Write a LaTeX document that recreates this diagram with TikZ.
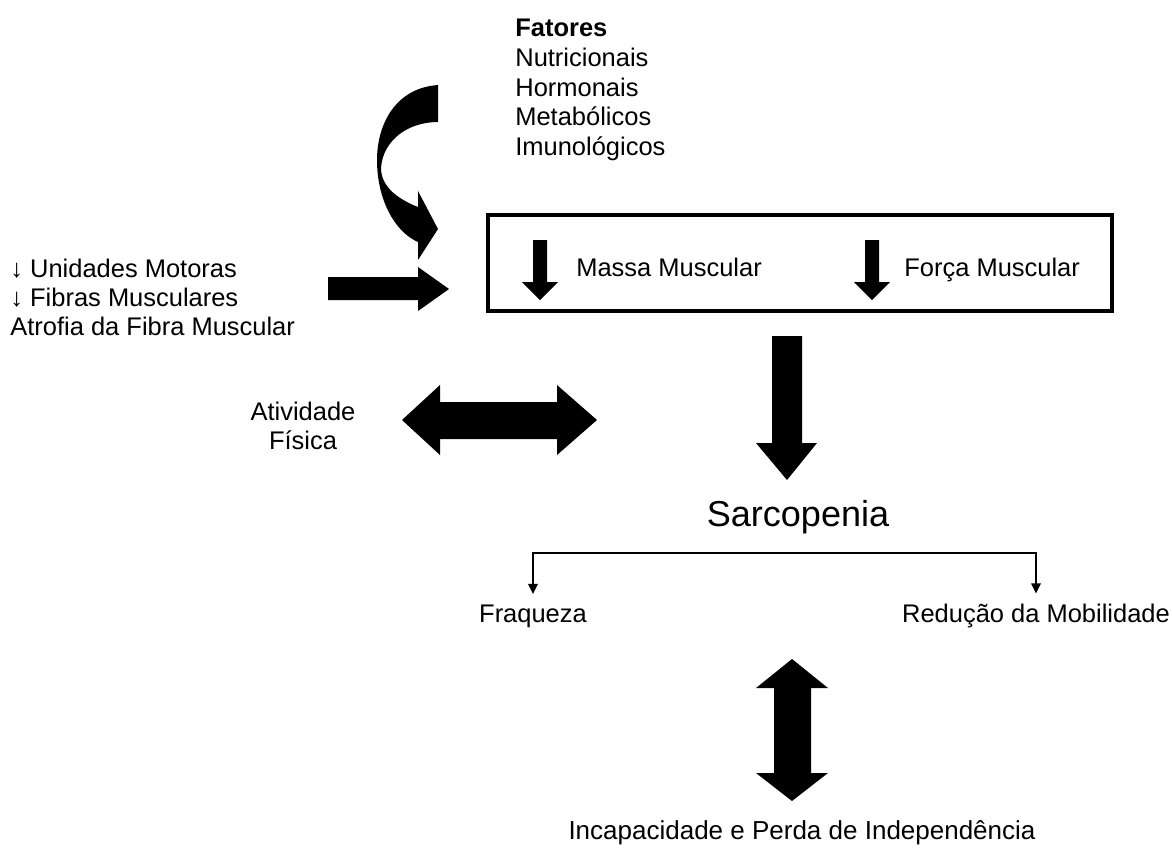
\documentclass[tikz,border=0pt]{standalone}
\usepackage{fontspec}
\setmainfont{Liberation Sans}
\usetikzlibrary{arrows.meta}
\tikzset{
  txt/.style={font=\fontsize{14.5}{16.5}\selectfont, inner sep=0pt},
  blk/.style={fill=black, draw=none},
  conn/.style={line width=0.85pt, -{Triangle[width=5.4pt,length=5.8pt]}},
}
\begin{document}
\begin{tikzpicture}[x=0.02cm, y=-0.02cm]
    \useasboundingbox (0,0) rectangle (1173,850);

    % fatores
    \node[txt, anchor=west, align=left, font=\fontsize{14.5}{17}\selectfont] (fat) at (515,90)
        {\textbf{Fatores}\\Nutricionais\\Hormonais\\Metabólicos\\Imunológicos};
    \fill[blk] (438,85) .. controls (395,88) and (377,125) .. (377,160)
        .. controls (377,200) and (395,232) .. (418,242)
        -- (418,260) -- (438,229) -- (418,191) -- (418,207)
        .. controls (395,198) and (381,185) .. (381,168)
        .. controls (383,140) and (408,122) .. (438,122) -- cycle;

    % box
    \node[draw, line width=2.3pt, minimum width=12.48cm, minimum height=1.92cm] (box) at (800,263) {};
    \node[txt, anchor=base west] (massa) at (576,276) {Massa Muscular};
    \node[txt, anchor=base west] (forca) at (904,276) {Força Muscular};
    \foreach \xa in {540,872}
        \fill[blk] (\xa-7,240) -- (\xa+7,240) -- (\xa+7,282) -- (\xa+18,282)
            -- (\xa,300) -- (\xa-18,282) -- (\xa-7,282) -- cycle;

    % fibras
    \node[txt, anchor=west, align=left] (mot) at (10,297)
        {↓ Unidades Motoras\\↓ Fibras Musculares\\Atrofia da Fibra Muscular};
    \fill[blk] (328,277) -- (418,277) -- (418,267) -- (449,289) -- (418,311)
        -- (418,300) -- (328,300) -- cycle;

    % atividade
    \node[txt, align=center] (ativ) at (303,426) {Atividade\\Física};
    \fill[blk] (402,420) -- (440,385) -- (440,402) -- (557,402) -- (557,385)
        -- (597,420) -- (557,455) -- (557,439) -- (440,439) -- (440,455) -- cycle;

    % sarcopenia
    \fill[blk] (772,336) -- (802,336) -- (802,443) -- (817,443) -- (787,480)
        -- (756,443) -- (772,443) -- cycle;
    \node[txt, font=\fontsize{20.5}{24}\selectfont] (sarc) at (798,517) {Sarcopenia};

    \node[txt, outer sep=6pt] (fraq) at (533,616) {Fraqueza};
    \node[txt, outer sep=6pt] (redu) at (1036,616) {Redução da Mobilidade};
    \coordinate (brk) at (798,553);
    \draw[conn] (brk) -| (fraq.north);
    \draw[conn] (brk) -| (redu.north);

    \fill[blk] (792,659) -- (828,688) -- (811,688) -- (811,773) -- (828,773)
        -- (792,801) -- (756,773) -- (774,773) -- (774,688) -- (756,688) -- cycle;
    \node[txt, font=\fontsize{14.8}{17}\selectfont] (incap) at (802,833) {Incapacidade e Perda de Independência};
\end{tikzpicture}
\end{document}
